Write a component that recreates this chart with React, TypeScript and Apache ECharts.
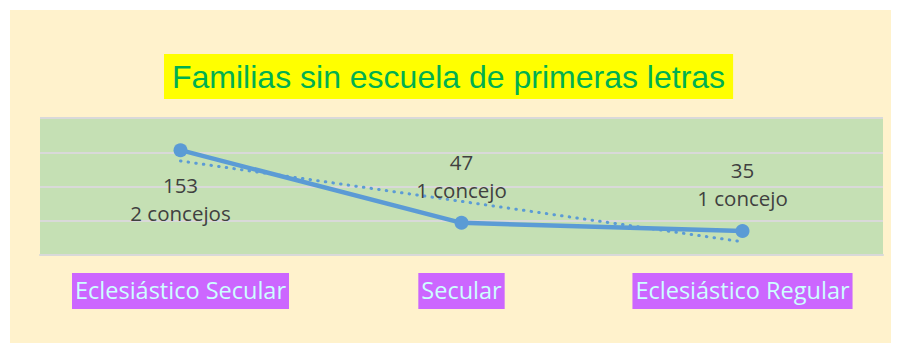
import React, { useEffect, useRef } from "react";
import * as echarts from "echarts";

const categories = ["Eclesiástico Secular", "Secular", "Eclesiástico Regular"];
const values = [153, 47, 35];
const concejos = ["2 concejos", "1 concejo", "1 concejo"];
const trendValues = [137.3, 78.3, 19.3];
const labelPositions = ["bottom", "top", "top"];
const titleText = "Familias sin escuela de primeras letras";

export default function App() {
  const ref = useRef<HTMLDivElement>(null);
  useEffect(() => {
    if (!ref.current) return;
    const chart = echarts.init(ref.current, undefined, { renderer: "svg" });
    const blue = "#5B9BD5";
    chart.setOption({
      animation: false,
      backgroundColor: "#FFF2CC",
      title: {
        text: titleText,
        left: 154,
        top: 44,
        backgroundColor: "#FFFF00",
        padding: [6, 8, 6, 8],
        textStyle: {
          color: "#00B050",
          fontFamily: "Liberation Sans, Arial, sans-serif",
          fontWeight: "normal",
          fontSize: 32,
          lineHeight: 33,
        },
      },
      grid: {
        left: 30,
        right: 16,
        top: 108,
        bottom: 88,
        show: true,
        backgroundColor: "#C5E0B4",
        borderWidth: 0,
      },
      xAxis: {
        type: "category",
        data: categories,
        boundaryGap: true,
        axisLine: { show: true, lineStyle: { color: "#D9D9D9", width: 2 } },
        axisTick: { show: false },
        axisLabel: {
          interval: 0,
          margin: 18,
          color: "#CCFFFF",
          backgroundColor: "#CC66FF",
          padding: [5, 3, 7, 3],
          fontFamily: "Open Sans, sans-serif",
          fontSize: 23.5,
          lineHeight: 24,
        },
      },
      yAxis: {
        type: "value",
        min: 0,
        max: 200,
        interval: 50,
        axisLine: { show: false },
        axisTick: { show: false },
        axisLabel: { show: false },
        splitLine: { show: true, lineStyle: { color: "#D9D9D9", width: 2 } },
      },
      series: [
        {
          type: "line",
          data: trendValues,
          symbol: "none",
          silent: true,
          lineStyle: { color: blue, width: 3, type: [0.5, 7.2], cap: "round" },
          z: 2,
        },
        {
          type: "line",
          data: values.map((v, i) => ({
            value: v,
            label: {
              show: true,
              position: labelPositions[i],
              distance: i === 0 ? 14 : 12,
              formatter: () => `${v}\n${concejos[i]}`,
            },
          })),
          symbol: "circle",
          symbolSize: 14,
          itemStyle: { color: blue },
          lineStyle: { color: blue, width: 4.5 },
          label: {
            color: "#404040",
            fontFamily: "Open Sans, sans-serif",
            fontSize: 20.5,
            lineHeight: 28,
          },
          z: 3,
        },
      ],
    });
    return () => chart.dispose();
  }, []);
  return (
    <div
      ref={ref}
      style={{ width: 889, height: 333, marginLeft: 2, marginTop: 2 }}
    />
  );
}
